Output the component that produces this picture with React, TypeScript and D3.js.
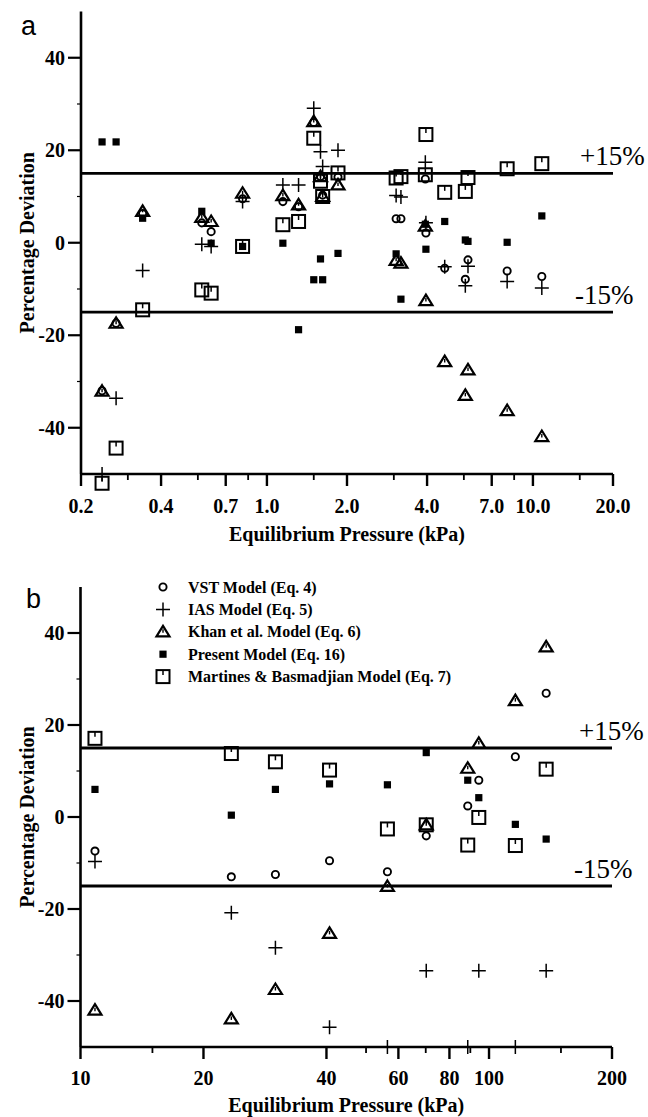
import React from "react";
import * as d3 from "d3";

// panel a: equilibrium pressure (kPa) and percentage deviation per model
const pressureA = [0.24, 0.271, 0.341, 0.569, 0.617, 0.81, 1.148, 1.315, 1.5, 1.59, 1.62, 1.85, 3.06, 3.19, 3.94, 3.96, 4.66, 5.57, 5.7, 8.0, 10.8];
const vstA = [-32, -17.4, 6.3, 4.3, 2.4, 9.5, 8.9, 7.8, 26.0, 14.3, 10.3, 14.2, 5.2, 5.2, 13.8, 2.1, -5.5, -7.9, -3.7, -6.1, -7.3];
const iasA = [-50, -33.6, -6.0, -0.3, -0.8, 8.9, 12.5, 12.5, 29.1, 19.7, 16.5, 20.0, 10.2, 9.9, 17.4, 4.3, -5.2, -9.3, -5.1, -8.4, -9.8];
const khanA = [-32.1, -17.4, 6.8, 5.5, 4.6, 10.7, 10.2, 8.2, 26.2, 14.3, 10.0, 12.5, -3.8, -4.4, 3.6, -12.5, -25.7, -33.0, -27.5, -36.3, -41.9];
const presentA = [21.8, 21.8, 5.3, 6.8, -0.1, -0.8, -0.1, -18.8, -8.0, -3.5, -8.0, -2.3, -2.4, -12.2, 4.0, -1.4, 4.6, 0.6, 0.3, 0.1, 5.8];
const mbA = [-52, -44.4, -14.5, -10.2, -10.9, -0.8, 3.9, 4.6, 22.6, 13.3, 10.0, 15.1, 14.0, 14.3, 14.7, 23.4, 10.9, 11.1, 14.1, 16.0, 17.1];

// panel b
const pressureB = [10.85, 23.4, 30.0, 40.7, 56.4, 70.2, 88.7, 94.4, 116, 138];
const vstB = [-7.4, -13.0, -12.5, -9.5, -11.9, -4.1, 2.4, 8.0, 13.1, 26.9];
const iasB = [-9.7, -20.8, -28.4, -45.7, -50, -33.4, -50, -33.4, -50, -33.4];
const khanB = [-42.0, -43.9, -37.5, -25.3, -15.1, -1.7, 10.6, 16.0, 25.3, 37.0];
const presentB = [6.0, 0.4, 6.0, 7.2, 7.0, 14.0, 8.0, 4.2, -1.6, -4.8];
const mbB = [17.1, 13.8, 12.0, 10.2, -2.6, -1.7, -6.1, -0.1, -6.2, 10.4];

const legendLabels = [
  "VST Model (Eq. 4)",
  "IAS Model (Eq. 5)",
  "Khan et al. Model (Eq. 6)",
  "Present Model (Eq. 16)",
  "Martines & Basmadjian Model (Eq. 7)",
];
const legendShapes = ["circle", "plus", "triangle", "fsquare", "osquare"];

const xTicksA = [0.2, 0.4, 0.7, 1.0, 2.0, 4.0, 7.0, 10.0, 20.0];
const xTickLabelsA = ["0.2", "0.4", "0.7", "1.0", "2.0", "4.0", "7.0", "10.0", "20.0"];
const xMinorA = [0.3, 0.55, 0.85, 1.5, 3, 5.5, 8.5, 15];
const xTicksB = [10, 20, 40, 60, 80, 100, 200];
const xTickLabelsB = ["10", "20", "40", "60", "80", "100", "200"];
const xMinorB = [15, 50, 70, 90, 150];
const yTicks = [-40, -20, 0, 20, 40];
const yMinor = [-30, -10, 10, 30];
const bandLines = [15, -15];

const serif = "'Liberation Serif', 'Times New Roman', serif";
const sans = "'Liberation Sans', Arial, sans-serif";

function Marker({ shape, x, y }) {
  if (shape === "circle")
    return <circle cx={x} cy={y} r={3.6} fill="none" stroke="#000" strokeWidth={1.9} />;
  if (shape === "plus")
    return (
      <path d={`M${x - 7},${y}H${x + 7}M${x},${y - 7}V${y + 7}`} stroke="#000" strokeWidth={1.5} fill="none" />
    );
  if (shape === "triangle")
    return (
      <g fill="none" stroke="#000">
        <path d={`M${x},${y - 6}L${x + 6.5},${y + 4.5}L${x - 6.5},${y + 4.5}Z`} strokeWidth={2.2} />
        <path d={`M${x},${y - 2.5}V${y + 1}`} strokeWidth={1.4} />
      </g>
    );
  if (shape === "fsquare") return <rect x={x - 3.6} y={y - 3.6} width={7.2} height={7.2} fill="#000" />;
  return (
    <g fill="none" stroke="#000">
      <rect x={x - 6.5} y={y - 6.5} width={13} height={13} strokeWidth={2} />
      <path d={`M${x},${y - 6.5}V${y - 1.5}`} strokeWidth={1.5} />
    </g>
  );
}

function Panel({ letter, letterX, letterY, x0, x1, yTop, yBot, xDomain, pressures, series, xTicks, xTickLabels, xMinor, tickLabelY, titleY, legend }) {
  const x = d3.scaleLog().domain(xDomain).range([x0, x1]);
  const y = d3.scaleLinear().domain([-50, 50]).range([yBot, yTop]);
  const midY = y(0);

  return (
    <g>
      <text x={letterX} y={letterY} fontFamily={sans} fontSize={27}>{letter}</text>

      {/* axes */}
      <line x1={x0} x2={x0} y1={yTop} y2={yBot} stroke="#000" strokeWidth={2.6} />
      <line x1={x0} x2={x1} y1={yBot} y2={yBot} stroke="#000" strokeWidth={2.6} />
      {yTicks.map((t) => (
        <g key={t}>
          <line x1={x0 - 13} x2={x0} y1={y(t)} y2={y(t)} stroke="#000" strokeWidth={2.2} />
          <text x={x0 - 16} y={y(t)} dy="0.35em" textAnchor="end" fontFamily={serif} fontWeight="bold" fontSize={20}>{t}</text>
        </g>
      ))}
      {yMinor.map((t) => (
        <line key={t} x1={x0 - 4} x2={x0} y1={y(t)} y2={y(t)} stroke="#000" strokeWidth={1.2} />
      ))}
      {xTicks.map((t, i) => (
        <g key={t}>
          <line x1={x(t)} x2={x(t)} y1={yBot} y2={yBot + 12} stroke="#000" strokeWidth={2.4} />
          <text x={x(t)} y={tickLabelY} textAnchor="middle" fontFamily={serif} fontWeight="bold" fontSize={20}>{xTickLabels[i]}</text>
        </g>
      ))}
      {xMinor.map((t) => (
        <line key={t} x1={x(t)} x2={x(t)} y1={yBot} y2={yBot + 6} stroke="#000" strokeWidth={1.8} />
      ))}
      <text x={(x0 + x1) / 2} y={titleY} textAnchor="middle" fontFamily={serif} fontWeight="bold" fontSize={20}>
        Equilibrium Pressure (kPa)
      </text>
      <text transform={`translate(34,${midY}) rotate(-90)`} textAnchor="middle" fontFamily={serif} fontWeight="bold" fontSize={20}>
        Percentage Deviation
      </text>

      {/* +/-15% band */}
      {bandLines.map((b) => (
        <g key={b}>
          <line x1={x0} x2={x1} y1={y(b)} y2={y(b)} stroke="#000" strokeWidth={2.8} />
          <text x={b > 0 ? x1 - 33 : x1 - 38} y={y(b) - 8} fontFamily={serif} fontSize={27}>
            {b > 0 ? "+15%" : "-15%"}
          </text>
        </g>
      ))}

      {/* data */}
      {series.map((s) => (
        <g key={s.shape}>
          {pressures.map((p, i) => (
            <Marker key={i} shape={s.shape} x={x(p)} y={y(s.values[i])} />
          ))}
        </g>
      ))}

      {legend &&
        legendLabels.map((lab, i) => (
          <g key={lab}>
            <Marker shape={legendShapes[i]} x={163} y={587 + i * 22.4} />
            <text x={188} y={587 + i * 22.4} dy="0.35em" fontFamily={serif} fontWeight="bold" fontSize={16}>{lab}</text>
          </g>
        ))}
    </g>
  );
}

export default function App() {
  const seriesA = [
    { shape: "osquare", values: mbA },
    { shape: "triangle", values: khanA },
    { shape: "circle", values: vstA },
    { shape: "plus", values: iasA },
    { shape: "fsquare", values: presentA },
  ];
  const seriesB = [
    { shape: "osquare", values: mbB },
    { shape: "triangle", values: khanB },
    { shape: "circle", values: vstB },
    { shape: "plus", values: iasB },
    { shape: "fsquare", values: presentB },
  ];
  return (
    <svg width={648} height={1117} style={{ position: "absolute", left: 0, top: 0, background: "#fff" }}>
      <rect width={648} height={1117} fill="#fff" />
      <Panel
        letter="a" letterX={21} letterY={35}
        x0={81} x1={613} yTop={11.5} yBot={474}
        xDomain={[0.2, 20]} pressures={pressureA} series={seriesA}
        xTicks={xTicksA} xTickLabels={xTickLabelsA} xMinor={xMinorA}
        tickLabelY={513} titleY={541} legend={false}
      />
      <Panel
        letter="b" letterX={26} letterY={608}
        x0={80.5} x1={612} yTop={587} yBot={1047}
        xDomain={[10, 200]} pressures={pressureB} series={seriesB}
        xTicks={xTicksB} xTickLabels={xTickLabelsB} xMinor={xMinorB}
        tickLabelY={1085} titleY={1112} legend={true}
      />
    </svg>
  );
}
